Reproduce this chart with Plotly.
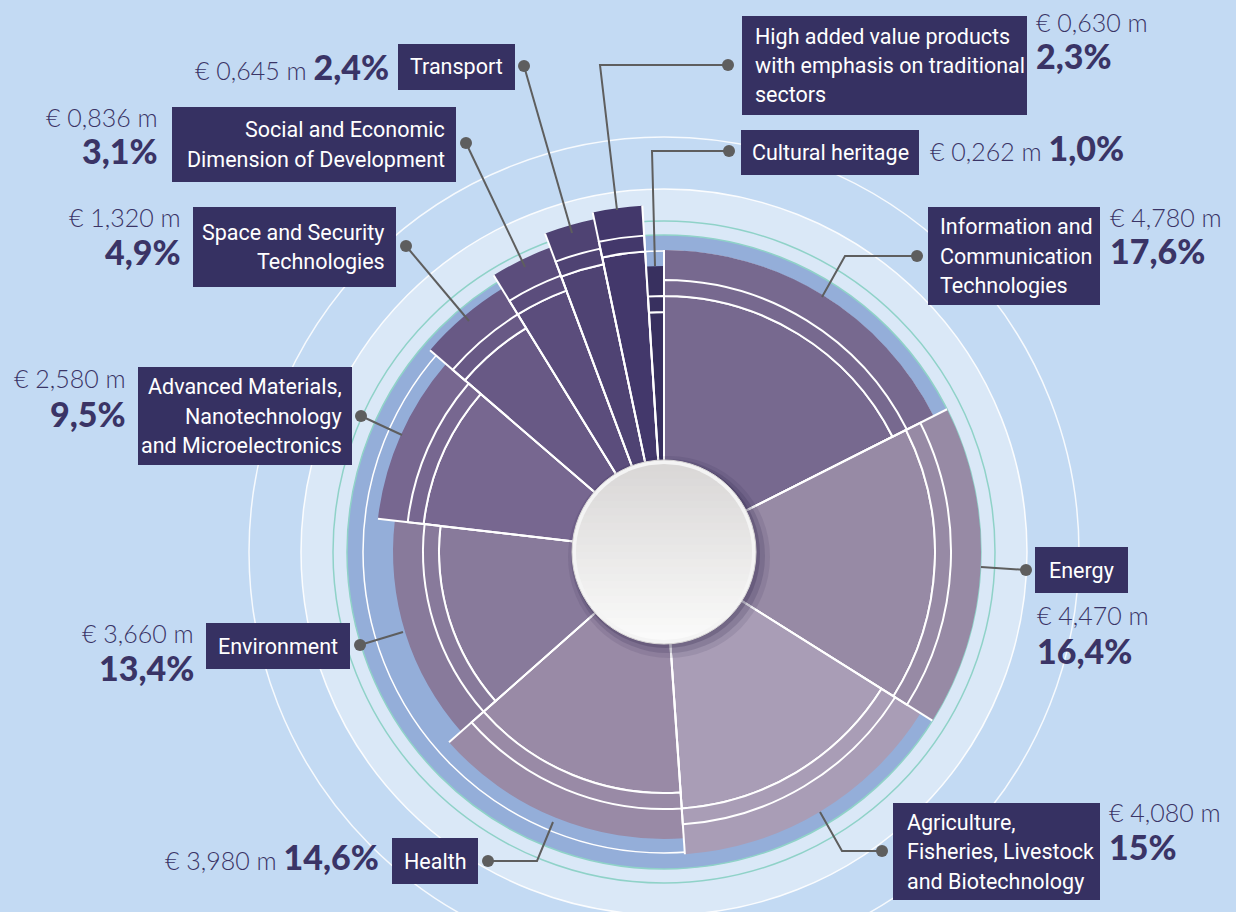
import math
import plotly.graph_objects as go

# ---------------- data ----------------
categories = ["Information and Communication Technologies", "Energy",
              "Agriculture, Fisheries, Livestock and Biotechnology", "Health",
              "Environment", "Advanced Materials, Nanotechnology and Microelectronics",
              "Space and Security Technologies", "Social and Economic Dimension of Development",
              "Transport", "High added value products with emphasis on traditional sectors",
              "Cultural heritage"]
amount_text = ["€ 4,780 m", "€ 4,470 m", "€ 4,080 m", "€ 3,980 m", "€ 3,660 m", "€ 2,580 m",
               "€ 1,320 m", "€ 0,836 m", "€ 0,645 m", "€ 0,630 m", "€ 0,262 m"]
percent = [17.6, 16.4, 15.0, 14.6, 13.4, 9.5, 4.9, 3.1, 2.4, 2.3, 1.0]
percent_text = ["17,6%", "16,4%", "15%", "14,6%", "13,4%", "9,5%", "4,9%", "3,1%", "2,4%", "2,3%", "1,0%"]
bar_length = [302, 317, 303, 287, 271, 288, 309, 325, 340, 347, 286]
colors = ["#77698f", "#978aa5", "#a99db6", "#998aa6", "#887a9b", "#776790",
          "#685985", "#5b4d7c", "#4f4373", "#43386b", "#38305f"]

W, H = 1236, 912
CX, CY, RMAX = 664, 552, 360


def px(x, y):
    return x / W, 1 - y / H


# angular geometry from percentages
total = sum(percent)
widths = [p / total * 360 for p in percent]
thetas = []
starts = []
acc = 0
for w in widths:
    starts.append(acc)
    thetas.append(acc + w / 2)
    acc += w

OUTER_BAND = 30
MID_BAND = 16

fig = go.Figure()
seg_inner = [r - OUTER_BAND - MID_BAND for r in bar_length]
seg_outer_base = [r - OUTER_BAND for r in bar_length]

line_style = dict(color="white", width=2)
fig.add_trace(go.Barpolar(theta=thetas, width=widths, r=seg_inner,
                          marker=dict(color=colors, line=line_style), hoverinfo="skip"))
fig.add_trace(go.Barpolar(theta=thetas, width=widths, base=seg_outer_base, r=[OUTER_BAND] * len(percent),
                          marker=dict(color=colors, line=dict(width=0)), hoverinfo="skip"))
fig.add_trace(go.Barpolar(theta=thetas, width=widths, base=seg_inner, r=[MID_BAND] * len(percent),
                          marker=dict(color=colors, line=line_style), hoverinfo="skip"))

# white radial separators between sectors, running out to the longer neighbour
sep_r, sep_t = [], []
n = len(percent)
for i in range(n):
    reach = max(bar_length[i], bar_length[i - 1])
    sep_r += [0, reach, None]
    sep_t += [starts[i], starts[i], None]
fig.add_trace(go.Scatterpolar(r=sep_r, theta=sep_t, mode="lines",
                              line=dict(color="white", width=2), hoverinfo="skip"))

shapes = []


def circle(r, cx=CX, cy=CY, fill=None, line=None, lw=0, layer="below"):
    x0, y0 = px(cx - r, cy + r)
    x1, y1 = px(cx + r, cy - r)
    d = dict(type="circle", xref="paper", yref="paper", x0=x0, y0=y0, x1=x1, y1=y1,
             layer=layer, line=dict(width=lw, color=line or "rgba(0,0,0,0)"))
    if fill:
        d["fillcolor"] = fill
    shapes.append(d)


def poly_path(points):
    s = ""
    for i, (x, y) in enumerate(points):
        xp, yp = px(x, y)
        s += ("M" if i == 0 else "L") + f"{xp:.5f},{yp:.5f} "
    return s + "Z"


# background rings
circle(415, line="rgba(255,255,255,0.85)", lw=1.5)
circle(363, fill="#dae8f7", line="rgba(255,255,255,0.9)", lw=1.5)
circle(331, line="#8fd2c8", lw=1.5)
circle(317, fill="#94aed9", line="#8fd2c8", lw=1.5)
circle(301, line="white", lw=1.5)

# centre disk with shadow
circle(101, cx=CX + 5, cy=CY + 5, fill="rgba(40,30,70,0.10)", layer="above")
circle(97, cx=CX + 4, cy=CY + 4, fill="rgba(40,30,70,0.16)", layer="above")
circle(94, cx=CX + 2, cy=CY + 2, fill="rgba(40,30,70,0.22)", layer="above")
circle(92, fill="#f4f4f4", line="#d8d6d6", lw=1, layer="above")

# vertical gradient inside the disk (horizontal bands clipped to the circle)
R_IN = 88
top_rgb = (0xda, 0xd8, 0xd7)
bot_rgb = (0xfa, 0xfa, 0xfa)
N_BANDS = 24
for b in range(N_BANDS):
    ya = CY - R_IN + 2 * R_IN * b / N_BANDS
    yb = CY - R_IN + 2 * R_IN * (b + 1) / N_BANDS + (0.6 if b < N_BANDS - 1 else 0)
    tt = b / (N_BANDS - 1)
    col = "#%02x%02x%02x" % tuple(int(top_rgb[k] + (bot_rgb[k] - top_rgb[k]) * tt) for k in range(3))
    right, left = [], []
    steps = 6
    for s in range(steps + 1):
        yy = ya + (yb - ya) * s / steps
        dy = min(abs(yy - CY), R_IN)
        dx = math.sqrt(max(R_IN ** 2 - dy ** 2, 0))
        right.append((CX + dx, yy))
        left.append((CX - dx, yy))
    pts = right + left[::-1]
    shapes.append(dict(type="path", xref="paper", yref="paper", path=poly_path(pts),
                       fillcolor=col, line=dict(width=0), layer="above"))

# leader lines & dots
LINE_C = "#5e5e5e"
leaders = [
    [(524, 66), (572, 233)],
    [(728, 65), (600, 65), (617, 210)],
    [(729, 151), (652, 151), (655, 266)],
    [(917, 256), (845, 256), (822, 297)],
    [(1026, 570), (981, 567)],
    [(882, 851), (842, 851), (820, 812)],
    [(488, 861), (537, 861), (553, 822)],
    [(360, 645), (403, 632)],
    [(361, 416), (402, 435)],
    [(406, 246), (469, 321)],
    [(466, 143), (525, 267)],
]
for pts in leaders:
    path = ""
    for i, (x, y) in enumerate(pts):
        xp, yp = px(x, y)
        path += ("M" if i == 0 else "L") + f"{xp},{yp} "
    shapes.append(dict(type="path", xref="paper", yref="paper", path=path,
                       line=dict(color=LINE_C, width=2), layer="above"))
    circle(6, cx=pts[0][0], cy=pts[0][1], fill=LINE_C, layer="above")

# label boxes
BOX_C = "#363162"
boxes = [
    # (x0, y0, x1, y1, lines, align, text_x)
    (398, 44, 515, 90, ["Transport"], "center", 456),
    (742, 16, 1027, 115, ["High added value products", "with emphasis on traditional", "sectors"], "left", 753),
    (741, 130, 919, 175, ["Cultural heritage"], "left", 750),
    (928, 207, 1100, 305, ["Information and", "Communication", "Technologies"], "left", 938),
    (1035, 547, 1128, 593, ["Energy"], "center", 1081),
    (893, 803, 1100, 900, ["Agriculture,", "Fisheries, Livestock", "and Biotechnology"], "left", 905),
    (392, 838, 478, 884, ["Health"], "center", 435),
    (206, 623, 350, 669, ["Environment"], "center", 278),
    (138, 367, 352, 465, ["Advanced Materials,", "Nanotechnology", "and Microelectronics"], "right", 344),
    (193, 207, 396, 287, ["Space and Security", "Technologies"], "right", 387),
    (172, 107, 456, 182, ["Social and Economic", "Dimension of Development"], "right", 447),
]
annotations = []
LABEL_FONT = dict(family="Liberation Sans Narrow, Roboto, sans-serif", size=21.5, color="white")
for x0, y0, x1, y1, lines, align, tx in boxes:
    a0, b0 = px(x0, y1)
    a1, b1 = px(x1, y0)
    shapes.append(dict(type="rect", xref="paper", yref="paper", x0=a0, y0=b0, x1=a1, y1=b1,
                       fillcolor=BOX_C, line=dict(width=0), layer="above"))
    nl = len(lines)
    mid = (y0 + y1) / 2
    step = 29.5
    for i, t in enumerate(lines):
        yy = mid + (i - (nl - 1) / 2) * step
        xa, ya = px(tx, yy)
        annotations.append(dict(xref="paper", yref="paper", x=xa, y=ya, text=t, showarrow=False,
                                xanchor=align, yanchor="middle", font=LABEL_FONT))

VAL_C = "#3a3466"
AMT_FONT = dict(family="Lato, Noto Sans, sans-serif", size=25, color=VAL_C, weight=300)
PCT_FONT = dict(family="Lato, Noto Sans, sans-serif", size=34, color=VAL_C, weight=900)

# two-line value labels: (index, x, anchor, y_amount, y_percent)
two_line = [
    (0, 1108, "left", 217, 250),
    (1, 1035, "left", 615, 650),
    (2, 1107, "left", 812, 846),
    (4, 196, "right", 633, 667),
    (5, 128, "right", 378, 413),
    (6, 183, "right", 217, 251),
    (7, 160, "right", 117, 150),
    (9, 1034, "left", 22, 56),
]
for i, x, anc, ya_, yp_ in two_line:
    xa, ya = px(x, ya_)
    annotations.append(dict(xref="paper", yref="paper", x=xa, y=ya, text=amount_text[i], showarrow=False,
                            xanchor=anc, yanchor="middle", font=AMT_FONT))
    xa, ya = px(x, yp_)
    annotations.append(dict(xref="paper", yref="paper", x=xa, y=ya, text=percent_text[i],
                            showarrow=False, xanchor=anc, yanchor="middle", font=PCT_FONT))

# one-line value labels
one_line = [
    (8, 391, "right", 66),
    (3, 381, "right", 856),
    (10, 928, "left", 147),
]
for i, x, anc, yy in one_line:
    xa, ya = px(x, yy)
    txt = amount_text[i] + ' <span style="font-size:34px;font-weight:900">' + percent_text[i] + "</span>"
    annotations.append(dict(xref="paper", yref="paper", x=xa, y=ya, text=txt, showarrow=False,
                            xanchor=anc, yanchor="middle", font=AMT_FONT))

fig.update_layout(
    width=W, height=H, margin=dict(l=0, r=0, t=0, b=0),
    paper_bgcolor="#c3daf3", plot_bgcolor="#c3daf3",
    showlegend=False,
    polar=dict(
        domain=dict(x=[(CX - RMAX) / W, (CX + RMAX) / W], y=[0, 2 * RMAX / H]),
        bgcolor="rgba(0,0,0,0)",
        radialaxis=dict(range=[0, RMAX], visible=False, showgrid=False),
        angularaxis=dict(rotation=90, direction="clockwise", visible=False, showgrid=False),
        barmode="overlay",
    ),
    shapes=shapes,
    annotations=annotations,
)

fig.write_html("out.html", config={"displayModeBar": False},
               post_script="document.body.style.margin='0';document.body.style.overflow='hidden';")
